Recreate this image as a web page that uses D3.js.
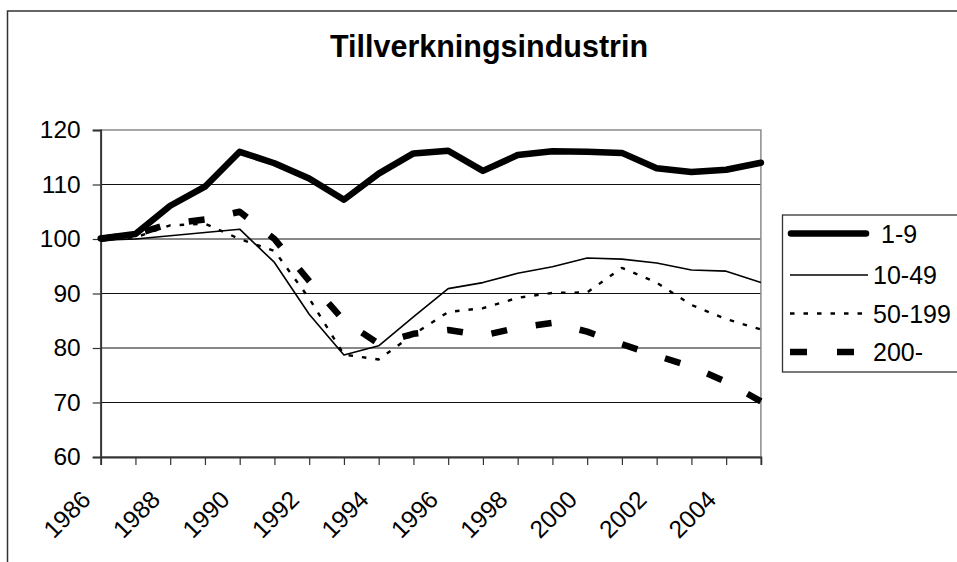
<!DOCTYPE html>
<html lang="sv">

<head>
    <meta charset="UTF-8">
    <title>Tillverkningsindustrin</title>
    <script src="https://d3js.org/d3.v7.min.js"></script>
    <style>
        body {
            margin: 0;
            background: #fff;
        }

        text {
            font-family: "Liberation Sans", Arial, sans-serif;
            fill: #000;
        }

        .grid line {
            stroke: #111;
            stroke-width: 1;
        }
    </style>
</head>

<body>
    <svg id="chart"></svg>

    <script>
        const width = 957;
        const height = 562;

        // Data (index, 1986 = 100)
        const years = d3.range(1986, 2006);
        const yTicks = [60, 70, 80, 90, 100, 110, 120];
        const seriesNames = ['1-9', '10-49', '50-199', '200-'];

        const s1_9 = [100.1, 100.9, 106.1, 109.6, 116.0, 113.9, 111.1, 107.2, 112.0, 115.7,
            116.2, 112.5, 115.4, 116.1, 116.0, 115.8, 113.0, 112.3, 112.7, 114.0];
        const s10_49 = [99.8, 100.0, 100.6, 101.2, 101.8, 95.7, 86.2, 78.7, 80.4, 85.7,
            90.9, 92.0, 93.7, 94.9, 96.5, 96.3, 95.6, 94.3, 94.1, 92.0];
        const s50_199 = [100.0, 100.3, 102.5, 102.8, 100.0, 97.8, 89.1, 78.8, 77.9, 82.5,
            86.6, 87.3, 89.2, 90.1, 90.2, 94.7, 92.0, 87.9, 85.3, 83.4];
        const s200 = [100.0, 100.9, 102.8, 103.6, 105.0, 100.0, 92.3, 85.0, 80.8, 82.6,
            83.3, 82.3, 83.7, 84.6, 83.0, 80.7, 78.6, 76.6, 73.8, 70.2];

        const seriesValues = [s1_9, s10_49, s50_199, s200];

        // line styles per series
        const styles = [
            { width: 6.5, dash: null, cap: 'round' },
            { width: 1.6, dash: null, cap: 'butt' },
            { width: 2.4, dash: '4.5,9', cap: 'butt' },
            { width: 6.5, dash: '16,29', cap: 'butt' }
        ];

        const svg = d3.select('#chart')
            .attr('width', width)
            .attr('height', height);

        // outer chart border (cut off at right/bottom like the original)
        svg.append('rect')
            .attr('x', 7.5).attr('y', 11)
            .attr('width', 1100).attr('height', 700)
            .attr('fill', '#fff')
            .attr('stroke', '#333')
            .attr('stroke-width', 1.5);

        svg.append('text')
            .attr('x', 489)
            .attr('y', 57)
            .attr('text-anchor', 'middle')
            .style('font-size', '30.5px')
            .style('font-weight', 'bold')
            .text('Tillverkningsindustrin');

        const plotLeft = 100.7, plotRight = 760.9, plotTop = 130, plotBottom = 457;

        const x = d3.scalePoint()
            .domain(years)
            .range([plotLeft, plotRight]);

        const y = d3.scaleLinear()
            .domain([60, 120])
            .range([plotBottom, plotTop]);

        // gridlines
        svg.append('g')
            .attr('class', 'grid')
            .selectAll('line')
            .data(yTicks.filter(d => d > 60 && d < 120))
            .join('line')
            .attr('x1', plotLeft).attr('x2', plotRight)
            .attr('y1', d => y(d)).attr('y2', d => y(d));

        // plot area border (grey)
        svg.append('rect')
            .attr('x', plotLeft).attr('y', plotTop)
            .attr('width', plotRight - plotLeft).attr('height', plotBottom - plotTop)
            .attr('fill', 'none')
            .attr('stroke', '#8a8a8a')
            .attr('stroke-width', 1.5);

        // y axis
        const yAxis = svg.append('g')
            .attr('transform', `translate(${plotLeft},0)`)
            .call(d3.axisLeft(y).tickValues(yTicks).tickSize(8).tickPadding(12));
        yAxis.select('.domain').attr('stroke', '#333').attr('stroke-width', 1.8);
        yAxis.selectAll('.tick line').attr('stroke', '#333').attr('stroke-width', 1.2);
        yAxis.selectAll('text')
            .style('font-size', '24.5px')
            .style('font-family', '"Liberation Sans", Arial, sans-serif')
            .attr('fill', '#000');

        // x axis
        const xAxis = svg.append('g')
            .attr('transform', `translate(0,${plotBottom})`)
            .call(d3.axisBottom(x).tickSize(8)
                .tickFormat(d => (d - 1986) % 2 === 0 ? d : ''));
        xAxis.select('.domain').attr('stroke', '#333').attr('stroke-width', 1.8);
        xAxis.selectAll('.tick line').attr('stroke', '#333').attr('stroke-width', 1.2);
        xAxis.selectAll('text')
            .style('font-size', '24.5px')
            .style('font-family', '"Liberation Sans", Arial, sans-serif')
            .attr('fill', '#000')
            .attr('text-anchor', 'end')
            .attr('x', -9)
            .attr('y', 44)
            .attr('dy', 0)
            .attr('transform', 'rotate(-45 -9 44)');

        // lines
        const line = d3.line()
            .x((d, i) => x(years[i]))
            .y(d => y(d));

        const plot = svg.append('g');
        seriesValues.forEach((vals, k) => {
            const st = styles[k];
            plot.append('path')
                .datum(vals)
                .attr('d', line)
                .attr('fill', 'none')
                .attr('stroke', '#000')
                .attr('stroke-width', st.width)
                .attr('stroke-linejoin', 'round')
                .attr('stroke-linecap', st.cap)
                .attr('stroke-dasharray', st.dash);
        });

        // legend
        const legend = svg.append('g');
        legend.append('rect')
            .attr('x', 782.5).attr('y', 215)
            .attr('width', 200).attr('height', 157)
            .attr('fill', '#fff')
            .attr('stroke', '#333')
            .attr('stroke-width', 1.3);

        const rowY = [233.5, 275, 313.5, 352];
        seriesNames.forEach((name, k) => {
            const st = styles[k];
            const ry = rowY[k];
            legend.append('line')
                .attr('x1', k === 0 ? 791 : 790)
                .attr('x2', k === 0 ? 866 : (k === 3 ? 855 : 868))
                .attr('y1', ry).attr('y2', ry)
                .attr('stroke', '#000')
                .attr('stroke-width', st.width)
                .attr('stroke-linecap', st.cap)
                .attr('stroke-dasharray', k === 3 ? '17,30' : st.dash);
            legend.append('text')
                .attr('x', k === 0 ? 881 : 873)
                .attr('y', ry)
                .attr('dy', '0.36em')
                .style('font-size', '25px')
                .text(name);
        });
    </script>
</body>

</html>
